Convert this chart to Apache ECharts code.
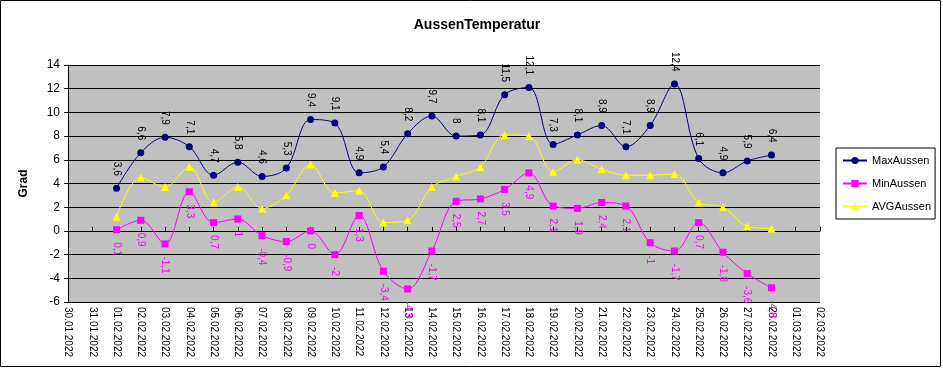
<!DOCTYPE html>
<html><head><meta charset="utf-8">
<script src="https://cdn.jsdelivr.net/npm/echarts@6/dist/echarts.min.js"></script>
<style>html,body{margin:0;padding:0;background:#fff}#c{width:943px;height:368px}</style>
</head><body><div id="c"></div>
<script>
const categories = ['30.01.2022','31.01.2022','01.02.2022','02.02.2022','03.02.2022','04.02.2022','05.02.2022','06.02.2022','07.02.2022','08.02.2022','09.02.2022','10.02.2022','11.02.2022','12.02.2022','13.02.2022','14.02.2022','15.02.2022','16.02.2022','17.02.2022','18.02.2022','19.02.2022','20.02.2022','21.02.2022','22.02.2022','23.02.2022','24.02.2022','25.02.2022','26.02.2022','27.02.2022','28.02.2022','01.03.2022','02.03.2022'];
const maxAussen = [null,null,3.6,6.6,7.9,7.1,4.7,5.8,4.6,5.3,9.4,9.1,4.9,5.4,8.2,9.7,8,8.1,11.5,12.1,7.3,8.1,8.9,7.1,8.9,12.4,6.1,4.9,5.9,6.4,null,null];
const minAussen = [null,null,0.1,0.9,-1.1,3.3,0.7,1,-0.4,-0.9,0,-2,1.3,-3.4,-4.9,-1.7,2.5,2.7,3.5,4.9,2.1,1.9,2.4,2.1,-1,-1.7,0.7,-1.8,-3.6,-4.8,null,null];
const avgAussen = [null,null,1.2,4.5,3.7,5.4,2.4,3.7,1.9,3.0,5.6,3.2,3.4,0.7,0.9,3.7,4.6,5.4,8.1,8.0,5.0,6.0,5.2,4.7,4.7,4.8,2.4,2.0,0.4,0.2,null,null];
const yTicks = {min:-6, max:14, interval:2};

const FONT = '"Liberation Sans", Arial, sans-serif';
const fmt = p => String(p.value).replace('.', ',');
const chart = echarts.init(document.getElementById('c'), null, {renderer:'canvas'});
chart.setOption({
  animation:false,
  backgroundColor:'#fff',
  textStyle:{fontFamily:FONT},
  title:{text:'AussenTemperatur', left:472, top:13, textAlign:'center',
    textStyle:{fontFamily:FONT, fontSize:14, fontWeight:'bold', color:'#000'}},
  grid:{left:68, right:123, top:65, bottom:66, show:true, backgroundColor:'#c0c0c0', borderWidth:0},
  legend:{orient:'vertical', left:836, top:148,
    borderColor:'#000', borderWidth:1, padding:[7,4,7,6], itemGap:12, itemWidth:24, itemHeight:9,
    textStyle:{fontFamily:FONT, fontSize:11, color:'#000'},
    data:['MaxAussen','MinAussen','AVGAussen']},
  xAxis:[{
    type:'category', data:categories, boundaryGap:false, position:'bottom',
    axisLine:{show:false, onZero:false}, axisTick:{show:false},
    axisLabel:{rotate:-90, interval:0, fontSize:10, color:'#000', fontFamily:FONT, margin:5},
    splitLine:{show:false}
  },{
    type:'category', data:categories, boundaryGap:false,
    axisLine:{show:true, onZero:true, lineStyle:{color:'#000', width:1}},
    axisTick:{show:true, inside:false, length:4, interval:0, lineStyle:{color:'#000'}},
    axisLabel:{show:false}, splitLine:{show:false}
  }],
  yAxis:{type:'value', min:yTicks.min, max:yTicks.max, interval:yTicks.interval,
    name:'Grad', nameLocation:'middle', nameGap:38, nameRotate:90,
    nameTextStyle:{fontFamily:FONT, fontSize:12, fontWeight:'bold', color:'#000'},
    axisLine:{show:true, lineStyle:{color:'#000'}},
    axisTick:{show:true, length:4, lineStyle:{color:'#000'}},
    axisLabel:{fontSize:12, color:'#000', fontFamily:FONT, margin:8},
    splitLine:{show:true, lineStyle:{color:'#000', width:1}}},
  graphic:[{type:'rect', shape:{x:0.5, y:0.5, width:940, height:366}, style:{fill:null, stroke:'#000', lineWidth:1}, silent:true, z:100}],
  series:[
    {name:'MaxAussen', type:'line', data:maxAussen, smooth:0.35, symbol:'circle', symbolSize:7,
      itemStyle:{color:'#000080'}, lineStyle:{color:'#000080', width:1},
      label:{show:true, position:'top', rotate:-90, align:'right', verticalAlign:'middle', distance:9, fontSize:10, color:'#000', fontFamily:FONT, formatter:fmt}, z:4},
    {name:'MinAussen', type:'line', data:minAussen, smooth:0.35, symbol:'rect', symbolSize:7,
      itemStyle:{color:'#ff00ff'}, lineStyle:{color:'#ff00ff', width:1},
      label:{show:true, position:'bottom', rotate:-90, align:'left', verticalAlign:'middle', distance:9, fontSize:10, color:'#ff00ff', fontFamily:FONT, formatter:fmt}, z:3},
    {name:'AVGAussen', type:'line', data:avgAussen, smooth:0.35, symbol:'triangle', symbolSize:8,
      itemStyle:{color:'#ffff00'}, lineStyle:{color:'#ffff00', width:1}, z:2}
  ]
});
</script></body></html>
